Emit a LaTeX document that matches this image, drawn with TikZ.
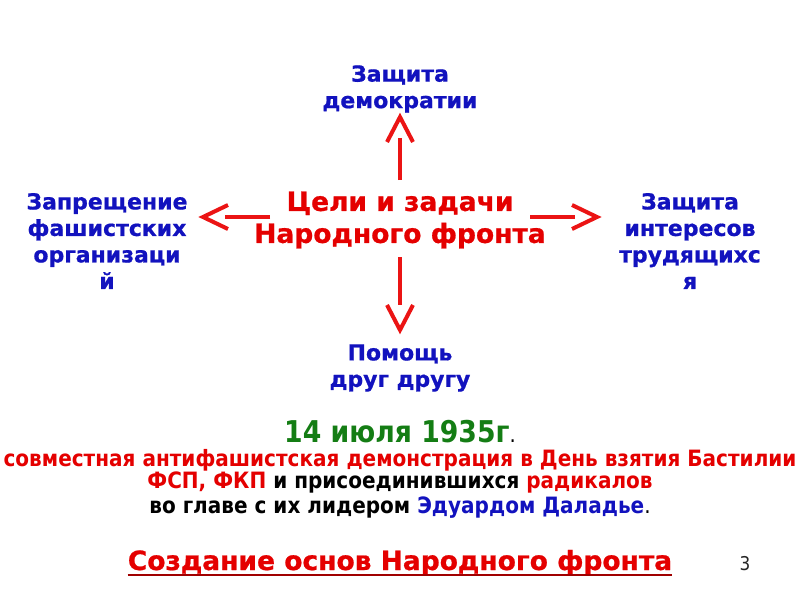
\documentclass[tikz,border=0pt]{standalone}
\usepackage{fontspec}
\setmainfont{DejaVu Sans}
\newfontfamily\cond{DejaVu Sans}[FakeStretch=0.89]
\newfontfamily\heavy{DejaVu Sans}[BoldFeatures={FakeBold=0.8}]
\definecolor{tblue}{RGB}{18,18,190}
\definecolor{tred}{RGB}{228,0,0}
\definecolor{tgreen}{RGB}{20,125,20}
\definecolor{arrred}{RGB}{235,20,20}
\tikzset{
  goal/.style={text=tblue, font=\heavy\bfseries\fontsize{22}{26.5}\selectfont, align=center, inner sep=0pt},
  center/.style={text=tred, font=\heavy\bfseries\fontsize{26.5}{32}\selectfont, align=center, inner sep=0pt},
  shaft/.style={draw=arrred, line width=4pt},
  chev/.style={draw=arrred, line width=4pt, line join=miter},
  lower/.style={font=\cond\bfseries\fontsize{22.5}{24}\selectfont, inner sep=0pt, anchor=base},
}
\begin{document}
\begin{tikzpicture}[x=1pt,y=-1pt]
\useasboundingbox (0,0) rectangle (800,600);
\node[goal] (top) at (400,89) {Защита\\демократии};
\node[center] (mid) at (400,220) {Цели и задачи\\Народного фронта};
\node[goal] (left) at (107,241) {Запрещение\\фашистских\\организаци\\й};
\node[goal] (right) at (690,241) {Защита\\интересов\\трудящихс\\я};
\node[goal] (bot) at (400,368) {Помощь\\друг другу};
% arrows
\coordinate (us) at (400,180); \coordinate (ue) at (400,138);
\draw[shaft] (us) -- (ue);
\draw[chev] (387,142) -- (400,117) -- (413,142);
\coordinate (ds) at (400,257); \coordinate (de) at (400,305);
\draw[shaft] (ds) -- (de);
\draw[chev] (387,305) -- (400,330) -- (413,305);
\coordinate (ls) at (270,217); \coordinate (le) at (225,217);
\draw[shaft] (ls) -- (le);
\draw[chev] (228,205) -- (203,217) -- (228,229);
\coordinate (rs) at (530,217); \coordinate (re) at (575,217);
\draw[shaft] (rs) -- (re);
\draw[chev] (572,205) -- (597,217) -- (572,229);
% lower text
\node[lower, font=\cond\bfseries\fontsize{30}{32}\selectfont] (date) at (400,442) {\textcolor{tgreen}{14 июля 1935г}{\fontsize{22}{24}\selectfont\mdseries.}};
\node[lower] (l1) at (400,466) {\textcolor{tred}{совместная антифашистская демонстрация в День взятия Бастилии}};
\node[lower] (l2) at (400,488.5) {\textcolor{tred}{ФСП, ФКП} и присоединившихся \textcolor{tred}{радикалов}};
\node[lower] (l3) at (400,513) {во главе с их лидером \textcolor{tblue}{Эдуардом Даладье}{\mdseries.}};
\node[lower, font=\heavy\bfseries\fontsize{26.5}{30}\selectfont, text=tred] (title) at (400,570) {Создание основ Народного фронта};
\draw[tred!70!black, line width=2.2pt] ([yshift=-5pt]title.base west) -- ([yshift=-5pt]title.base east);
\node[lower, font=\cond\fontsize{19}{22}\selectfont, text=black!85] (num) at (745,570) {3};
\end{tikzpicture}
\end{document}
